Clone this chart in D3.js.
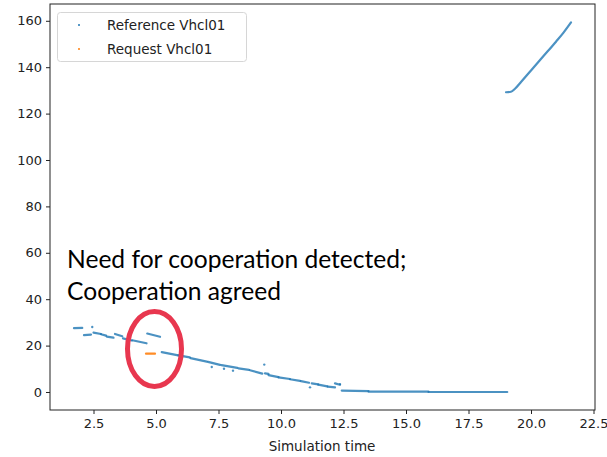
<!DOCTYPE html>
<html>
<head>
<meta charset="utf-8">
<script src="https://cdn.jsdelivr.net/npm/d3@7"></script>
<style>
  body { margin: 0; background: #fff; }
  svg { display: block; }
  .tick text { font-family: "DejaVu Sans", sans-serif; font-size: 13px; fill: #222; }
</style>
</head>
<body>
<svg id="chart" width="607" height="457"></svg>
<script>
// reference segments: start time, end time, value at start, value at end
const refT0 = [1.72, 2.12, 2.50, 2.80, 3.03, 3.36, 3.68, 4.05, 4.65, 5.23, 5.90, 6.38, 7.08, 7.62, 8.30, 8.76, 9.36, 9.50, 9.90, 10.36, 10.80, 11.23, 11.49, 11.87, 12.16, 12.43, 13.50, 15.90];
const refT1 = [2.05, 2.40, 2.80, 3.00, 3.30, 3.65, 4.03, 4.62, 5.16, 5.89, 6.35, 7.03, 7.56, 8.25, 8.72, 9.25, 9.50, 9.90, 10.36, 10.76, 11.12, 11.49, 11.85, 12.16, 12.36, 13.50, 15.90, 19.05];
const refV0 = [27.5, 24.5, 25.6, 24.9, 23.9, 25.0, 23.1, 22.3, 25.2, 17.2, 15.8, 14.6, 13.0, 11.6, 10.2, 9.4, 8.0, 7.3, 6.3, 5.5, 4.7, 3.7, 3.2, 2.3, 3.7, 0.6, 0.2, 0.0];
const refV1 = [27.6, 24.7, 25.0, 24.3, 23.4, 24.0, 22.2, 21.0, 23.8, 15.8, 14.9, 13.1, 11.7, 10.4, 9.5, 7.9, 7.8, 6.4, 5.6, 4.8, 4.0, 3.3, 2.4, 2.0, 3.1, 0.4, 0.15, 0.0];
// isolated reference points
const dotT = [2.45, 7.23, 7.72, 8.08, 9.33, 11.16, 12.36];
const dotV = [28.0, 10.8, 10.0, 9.2, 11.8, 2.0, 3.4];
// final rising part of the reference
const riseT = [19.00, 19.20, 19.35, 19.60, 20.00, 20.50, 21.00, 21.30, 21.60];
const riseV = [129.2, 129.4, 130.6, 133.6, 138.6, 144.8, 151.0, 154.9, 159.3];
// request segment
const reqT = [4.60, 4.96];
const reqV = [16.5, 16.5];

const xTicks = [2.5, 5.0, 7.5, 10.0, 12.5, 15.0, 17.5, 20.0, 22.5];
const yTicks = [0, 20, 40, 60, 80, 100, 120, 140, 160];

const blue = "#1f77b4", orange = "#ff7f0e";
const svg = d3.select("#chart");
svg.append("rect").attr("width", 607).attr("height", 457).attr("fill", "#fff");

const x = d3.scaleLinear().domain([0.76, 22.56]).range([50, 595]);
const y = d3.scaleLinear().domain([-7.76, 167.24]).range([410, 4]);

// axes
svg.append("g").attr("transform", "translate(0,410)")
    .call(d3.axisBottom(x).tickValues(xTicks).tickFormat(d3.format(".1f")).tickSize(4).tickPadding(5))
    .call(g => g.select(".domain").remove())
    .call(g => g.selectAll("line").attr("stroke", "#222"));
svg.append("g").attr("transform", "translate(50,0)")
    .call(d3.axisLeft(y).tickValues(yTicks).tickSize(4).tickPadding(4))
    .call(g => g.select(".domain").remove())
    .call(g => g.selectAll("line").attr("stroke", "#222"));
svg.append("rect").attr("x", 50).attr("y", 4).attr("width", 545).attr("height", 406)
    .attr("fill", "none").attr("stroke", "#222").attr("stroke-width", 1);

svg.append("text").attr("x", 322).attr("y", 451).attr("text-anchor", "middle")
    .style("font-family", "DejaVu Sans, sans-serif").style("font-size", "13.5px").attr("fill", "#222")
    .text("Simulation time");

// reference data
const segs = refT0.map((t, i) => ({t0: t, t1: refT1[i], v0: refV0[i], v1: refV1[i]}));
svg.append("g").selectAll("line").data(segs).join("line")
    .attr("x1", d => x(d.t0)).attr("x2", d => x(d.t1))
    .attr("y1", d => y(d.v0)).attr("y2", d => y(d.v1))
    .attr("stroke", blue).attr("stroke-width", 2.2).attr("stroke-linecap", "round")
    .attr("opacity", 0.8);
svg.append("g").selectAll("circle").data(dotT).join("circle")
    .attr("cx", d => x(d)).attr("cy", (d, i) => y(dotV[i])).attr("r", 1.2)
    .attr("fill", blue).attr("opacity", 0.8);
const line = d3.line().x(d => x(d[0])).y(d => y(d[1])).curve(d3.curveMonotoneX);
svg.append("path").datum(riseT.map((t, i) => [t, riseV[i]])).attr("d", line)
    .attr("fill", "none").attr("stroke", blue).attr("stroke-width", 2.2)
    .attr("stroke-linecap", "round").attr("opacity", 0.8);
svg.append("path").datum(reqT.map((t, i) => [t, reqV[i]])).attr("d", line)
    .attr("fill", "none").attr("stroke", orange).attr("stroke-width", 2.2)
    .attr("stroke-linecap", "round").attr("opacity", 0.9);

// legend
const lg = svg.append("g");
lg.append("rect").attr("x", 57.5).attr("y", 12.5).attr("width", 189).attr("height", 49).attr("rx", 3)
    .attr("fill", "#fff").attr("fill-opacity", 0.8).attr("stroke", "#d6d6d6");
[["Reference Vhcl01", blue], ["Request Vhcl01", orange]].forEach((d, i) => {
    lg.append("circle").attr("cx", 79).attr("cy", 25 + i * 24).attr("r", 1).attr("fill", d[1]);
    lg.append("text").attr("x", 107).attr("y", 30 + i * 24)
        .style("font-family", "DejaVu Sans, sans-serif").style("font-size", "13.5px").attr("fill", "#222")
        .text(d[0]);
});

// annotation
const note = svg.append("g").style("font-family", "Lato, 'Open Sans', sans-serif")
    .style("font-size", "24.6px").attr("fill", "#000");
note.append("text").attr("x", 67).attr("y", 268).text("Need for cooperation detected;");
note.append("text").attr("x", 67).attr("y", 300).text("Cooperation agreed");
svg.append("ellipse").attr("cx", 154.5).attr("cy", 349).attr("rx", 27).attr("ry", 37.5)
    .attr("fill", "none").attr("stroke", "#e8374f").attr("stroke-width", 5);
</script>
</body>
</html>
